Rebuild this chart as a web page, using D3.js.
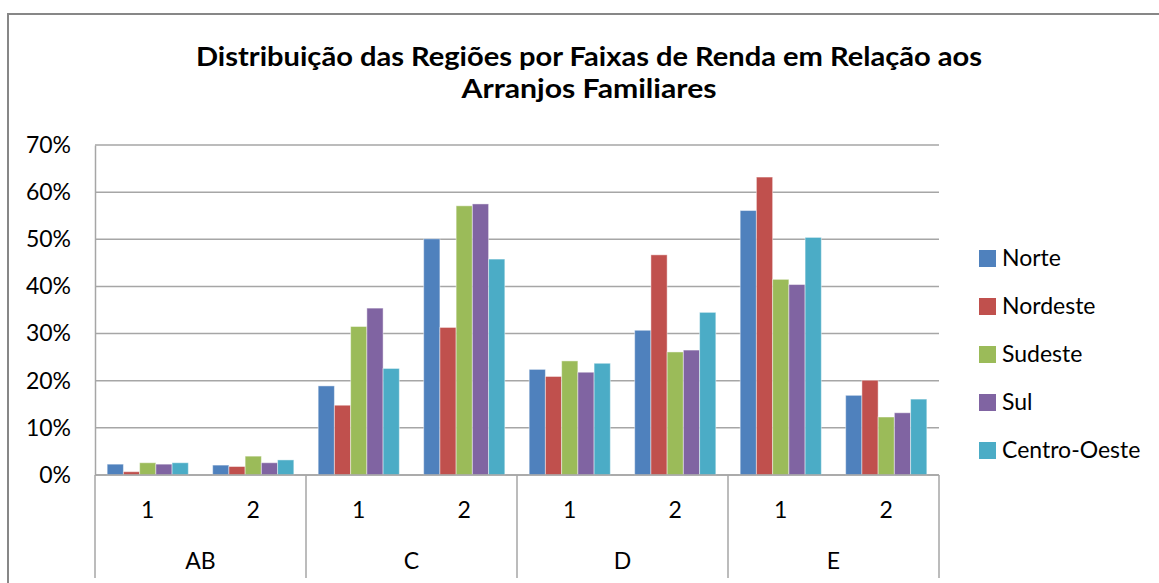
<!DOCTYPE html>
<html>
<head>
<meta charset="utf-8">
<script src="https://cdn.jsdelivr.net/npm/d3@7"></script>
<style>
    body { margin: 0; background: #fff; }
    text { font-family: Lato, "Open Sans", sans-serif; fill: #000; }
</style>
</head>
<body>
<div id="chart"></div>
<script>

// chart data
const faixas = ["AB", "C", "D", "E"];
const arranjos = ["1", "2"];
const regioes = ["Norte", "Nordeste", "Sudeste", "Sul", "Centro-Oeste"];
const cores = ["#4F81BD", "#C0504D", "#9BBB59", "#8064A2", "#4BACC6"];

// one array per region, order: AB1, AB2, C1, C2, D1, D2, E1, E2
const norte = [0.023, 0.021, 0.189, 0.501, 0.224, 0.307, 0.561, 0.169];
const nordeste = [0.007, 0.018, 0.148, 0.313, 0.209, 0.467, 0.632, 0.201];
const sudeste = [0.026, 0.040, 0.315, 0.571, 0.242, 0.261, 0.415, 0.123];
const sul = [0.023, 0.026, 0.354, 0.575, 0.218, 0.265, 0.404, 0.132];
const centroOeste = [0.026, 0.032, 0.226, 0.458, 0.237, 0.345, 0.504, 0.161];

const yTicks = [0, 0.1, 0.2, 0.3, 0.4, 0.5, 0.6, 0.7];
const titulo = ["Distribuição das Regiões por Faixas de Renda em Relação aos", "Arranjos Familiares"];


class RegioesVis {

    constructor(_parentElement) {
        this.parentElement = _parentElement;
        this.series = [norte, nordeste, sudeste, sul, centroOeste];
        this.initVis();
    }

    initVis() {
        let vis = this;

        vis.width = 1159;
        vis.height = 583;
        vis.plot = { left: 95, right: 939, top: 145, bottom: 475 };

        vis.svg = d3.select("#" + vis.parentElement).append("svg")
            .attr("width", vis.width)
            .attr("height", vis.height);

        // outer chart frame (runs off the right and bottom of the picture)
        vis.svg.append("rect")
            .attr("x", 8)
            .attr("y", 14)
            .attr("width", 1200)
            .attr("height", 700)
            .attr("fill", "none")
            .attr("stroke", "#878787")
            .attr("stroke-width", 2);

        // title
        vis.svg.selectAll(".title")
            .data(titulo)
            .enter().append("text")
            .attr("class", "title")
            .attr("x", 589)
            .attr("y", (d, i) => 66 + i * 32)
            .attr("text-anchor", "middle")
            .attr("font-size", 27)
            .attr("font-weight", "bold")
            .attr("textLength", (d, i) => i === 0 ? 786 : 255)
            .attr("lengthAdjust", "spacingAndGlyphs")
            .text(d => d);

        // scales
        vis.x0 = d3.scaleBand()
            .domain(faixas)
            .range([vis.plot.left, vis.plot.right]);

        vis.x1 = d3.scaleBand()
            .domain(arranjos)
            .range([0, vis.x0.bandwidth()]);

        vis.x2 = d3.scaleBand()
            .domain(regioes)
            .range([0, vis.x1.bandwidth()])
            .paddingOuter(0.75);

        vis.y = d3.scaleLinear()
            .domain([0, 0.7])
            .range([vis.plot.bottom, vis.plot.top]);

        vis.color = d3.scaleOrdinal()
            .domain(regioes)
            .range(cores);

        // gridlines
        vis.svg.append("g")
            .attr("class", "grid")
            .selectAll("line")
            .data(yTicks)
            .enter().append("line")
            .attr("x1", vis.plot.left)
            .attr("x2", vis.plot.right)
            .attr("y1", d => vis.y(d))
            .attr("y2", d => vis.y(d))
            .attr("stroke", "#A6A6A6")
            .attr("stroke-width", 1.5);

        // y axis
        vis.yAxis = d3.axisLeft(vis.y)
            .tickValues(yTicks)
            .tickFormat(d3.format(".0%"))
            .tickSize(0)
            .tickPadding(24);

        vis.svg.append("g")
            .attr("class", "y-axis")
            .attr("transform", "translate(" + vis.plot.left + ",0)")
            .call(vis.yAxis)
            .call(g => g.select(".domain").attr("stroke", "#A6A6A6").attr("stroke-width", 1.5))
            .selectAll("text")
            .attr("font-size", 23)
            .attr("font-family", "Lato, sans-serif")
            .attr("fill", "#000");

        vis.wrangleData();
    }

    wrangleData() {
        let vis = this;

        vis.displayData = [];
        faixas.forEach((f, fi) => {
            arranjos.forEach((a, ai) => {
                regioes.forEach((r, ri) => {
                    vis.displayData.push({
                        faixa: f,
                        arranjo: a,
                        regiao: r,
                        value: vis.series[ri][fi * arranjos.length + ai]
                    });
                });
            });
        });

        vis.updateVis();
    }

    updateVis() {
        let vis = this;

        // bars
        vis.svg.append("g")
            .attr("class", "bars")
            .selectAll("rect")
            .data(vis.displayData)
            .enter().append("rect")
            .attr("x", d => vis.x0(d.faixa) + vis.x1(d.arranjo) + vis.x2(d.regiao))
            .attr("y", d => vis.y(d.value))
            .attr("width", vis.x2.bandwidth())
            .attr("height", d => vis.y(0) - vis.y(d.value))
            .attr("fill", d => vis.color(d.regiao))
            .attr("stroke", "rgba(255,255,255,0.45)")
            .attr("stroke-width", 1);

        // category axis: baseline, group dividers, labels
        let cat = vis.svg.append("g").attr("class", "x-axis");

        cat.append("line")
            .attr("x1", vis.plot.left)
            .attr("x2", vis.plot.right)
            .attr("y1", vis.y(0))
            .attr("y2", vis.y(0))
            .attr("stroke", "#A6A6A6")
            .attr("stroke-width", 1.5);

        let dividers = faixas.map(f => vis.x0(f)).concat([vis.plot.right]);
        cat.selectAll(".divider")
            .data(dividers)
            .enter().append("line")
            .attr("class", "divider")
            .attr("x1", d => d)
            .attr("x2", d => d)
            .attr("y1", vis.y(0))
            .attr("y2", 578)
            .attr("stroke", "#A6A6A6")
            .attr("stroke-width", 1.5);

        let subLabels = [];
        faixas.forEach(f => arranjos.forEach(a => subLabels.push({ faixa: f, arranjo: a })));

        cat.selectAll(".sub-label")
            .data(subLabels)
            .enter().append("text")
            .attr("class", "sub-label")
            .attr("x", d => vis.x0(d.faixa) + vis.x1(d.arranjo) + vis.x1.bandwidth() / 2)
            .attr("y", 518)
            .attr("text-anchor", "middle")
            .attr("font-size", 23)
            .text(d => d.arranjo);

        cat.selectAll(".group-label")
            .data(faixas)
            .enter().append("text")
            .attr("class", "group-label")
            .attr("x", d => vis.x0(d) + vis.x0.bandwidth() / 2)
            .attr("y", 569)
            .attr("text-anchor", "middle")
            .attr("font-size", 23)
            .text(d => d);

        // legend
        let legend = vis.svg.append("g")
            .attr("class", "legend")
            .selectAll("g")
            .data(regioes)
            .enter().append("g")
            .attr("transform", (d, i) => "translate(979," + (258 + i * 48) + ")");

        legend.append("rect")
            .attr("x", 0)
            .attr("y", -8)
            .attr("width", 17)
            .attr("height", 17)
            .attr("fill", d => vis.color(d));

        legend.append("text")
            .attr("x", 23)
            .attr("y", 8)
            .attr("font-size", 23)
            .text(d => d);
    }
}

new RegioesVis("chart");

</script>
</body>
</html>
